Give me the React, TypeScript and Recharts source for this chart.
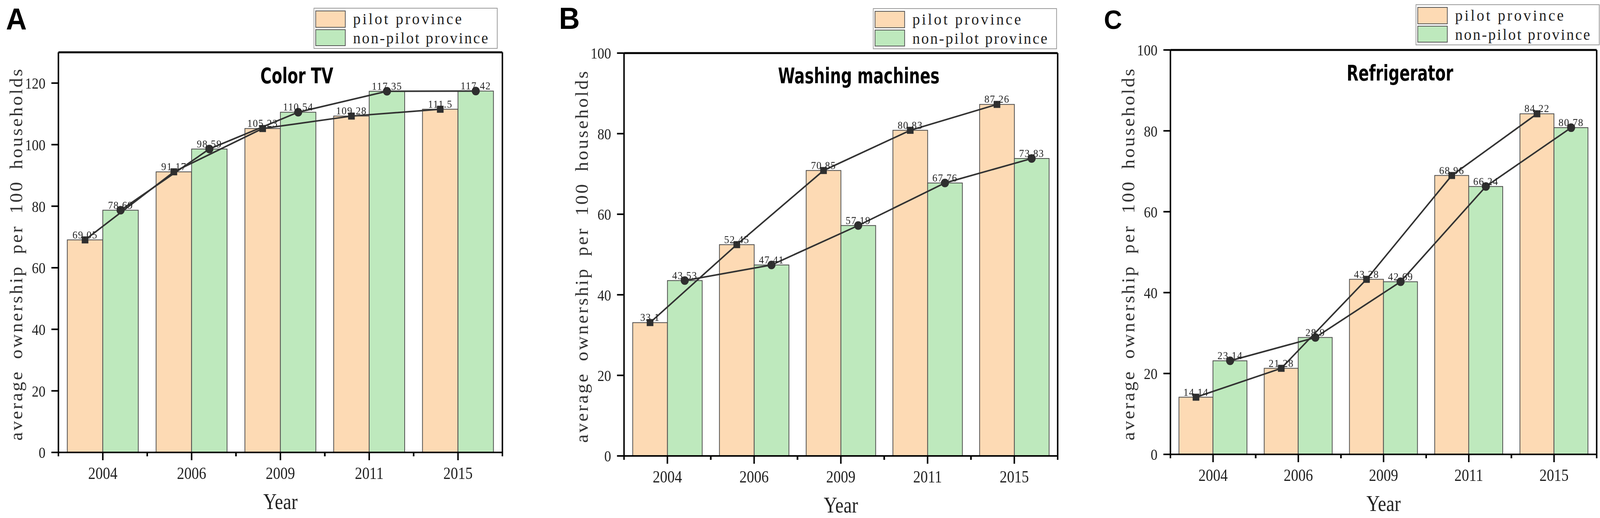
import React from 'react';
import { ComposedChart, Bar, Line, XAxis, YAxis, Legend, LabelList, Label } from 'recharts';

const years = ['2004', '2006', '2009', '2011', '2015'];
const seriesNames = ['pilot province', 'non-pilot province'];

const tvPilot = [69.05, 91.17, 105.23, 109.28, 111.5];
const tvNonPilot = [78.69, 98.59, 110.54, 117.35, 117.42];
const washPilot = [33.1, 52.45, 70.85, 80.83, 87.26];
const washNonPilot = [43.53, 47.41, 57.19, 67.76, 73.83];
const fridgePilot = [14.14, 21.28, 43.28, 68.96, 84.22];
const fridgeNonPilot = [23.14, 28.9, 42.69, 66.24, 80.78];

const tvTicks = [0, 20, 40, 60, 80, 100, 120];
const tvMinorTicks = [10, 30, 50, 70, 90, 110];
const shareTicks = [0, 20, 40, 60, 80, 100];
const shareMinorTicks = [10, 30, 50, 70, 90];

const PILOT_FILL = '#FDDAB4';
const NON_PILOT_FILL = '#BEE9BD';
const MARK = '#2f2f2f';
const SERIF = "'Liberation Serif', 'DejaVu Serif', serif";
const TITLE_FONT = "'Liberation Sans Narrow', 'DejaVu Sans Condensed', 'Liberation Sans', sans-serif";
const LETTER_FONT = "'Liberation Sans', 'DejaVu Sans', sans-serif";
const PAGE_W = 4328;
const PAGE_H = 1327;
const NARROW = 0.9; // the figure's digits are narrower than Times

const makeRows = (pilot: number[], nonPilot: number[]) =>
    years.map((year, i) => ({ year, pilot: pilot[i], nonPilot: nonPilot[i] }));

const panels = [
    {
        letter: 'A', letterSize: 78, letterX: 16, letterY: 76,
        title: 'Color TV', titleX: 803, titleY: 213,
        rows: makeRows(tvPilot, tvNonPilot), max: 130, ticks: tvTicks, minor: tvMinorTicks,
        left: 0, width: 1400, plotLeft: 158, plotRight: 1359, top: 134, bottom: 1159,
        legendX: 848, legendY: 20,
    },
    {
        letter: 'B', letterSize: 78, letterX: 1512, letterY: 74,
        title: 'Washing machines', titleX: 2323, titleY: 213,
        rows: makeRows(washPilot, washNonPilot), max: 100, ticks: shareTicks, minor: shareMinorTicks,
        left: 1440, width: 1460, plotLeft: 1688, plotRight: 2861, top: 136, bottom: 1168,
        legendX: 2361, legendY: 21,
    },
    {
        letter: 'C', letterSize: 68, letterX: 2986, letterY: 74,
        title: 'Refrigerator', titleX: 3787, titleY: 206,
        rows: makeRows(fridgePilot, fridgeNonPilot), max: 100, ticks: shareTicks, minor: shareMinorTicks,
        left: 2930, width: 1398, plotLeft: 3166, plotRight: 4319, top: 128, bottom: 1164,
        legendX: 3829, legendY: 11,
    },
];

const squareDot = (p: any) => (
    <rect key={`sq-${p.index}`} x={p.cx - 9} y={p.cy - 9} width={18} height={18} fill={MARK} />
);

const circleDot = (p: any) => (
    <circle key={`ci-${p.index}`} cx={p.cx} cy={p.cy} r={11} fill={MARK} />
);

const valueLabel = (props: any) => {
    const x = props.x ?? props.viewBox?.x;
    const y = props.y ?? props.viewBox?.y;
    return (
        <text x={x} y={y - 4} textAnchor="middle" fontSize={27} fontFamily={SERIF} fill="#222" letterSpacing={1.5}>
            {props.value}
        </text>
    );
};

const yTick = (t: any) => (
    <text
        transform={`translate(${t.x},${t.y}) scale(${NARROW},1)`}
        dy="0.35em"
        textAnchor="end"
        fontSize={41}
        fontFamily={SERIF}
        fill="#222"
    >
        {t.payload.value}
    </text>
);

const renderLegend = () => (
    <svg width={500} height={106}>
        <rect x={1} y={1} width={496} height={103} fill="#fff" stroke="#9a9a9a" strokeWidth={2} />
        <rect x={6} y={8} width={80} height={42} fill={PILOT_FILL} stroke="#555" strokeWidth={2} />
        <rect x={6} y={56} width={80} height={41} fill={NON_PILOT_FILL} stroke="#555" strokeWidth={2} />
        <text x={107} y={42} fontSize={41} fontFamily={SERIF} letterSpacing={5} fill="#222">{seriesNames[0]}</text>
        <text x={107} y={91} fontSize={41} fontFamily={SERIF} letterSpacing={3.6} fill="#222">{seriesNames[1]}</text>
    </svg>
);

const Panel = ({ p }: { p: (typeof panels)[number] }) => {
    const plotWidth = p.plotRight - p.plotLeft;
    const halfBand = plotWidth / 10;
    const shift = plotWidth / 25;
    const axisStroke = { stroke: '#000', strokeWidth: 4 };

    const xTick = (t: any) => {
        const axisY = t.y - 37;
        return (
            <g>
                <line x1={t.x - halfBand} x2={t.x - halfBand} y1={axisY} y2={axisY + 10} stroke="#000" strokeWidth={4} />
                <line x1={t.x + halfBand} x2={t.x + halfBand} y1={axisY} y2={axisY + 10} stroke="#000" strokeWidth={4} />
                <text
                    transform={`translate(${t.x},${t.y}) scale(${NARROW},1)`}
                    dy="0.71em"
                    textAnchor="middle"
                    fontSize={44}
                    fontFamily={SERIF}
                    fill="#222"
                >
                    {t.payload.value}
                </text>
            </g>
        );
    };

    const yLabel = (props: any) => {
        const vb = props.viewBox;
        const cx = vb.x + vb.width - 98;
        const cy = vb.y + vb.height / 2 + 4;
        return (
            <text
                x={cx}
                y={cy}
                transform={`rotate(-90 ${cx} ${cy})`}
                textAnchor="middle"
                fontSize={48}
                fontFamily={SERIF}
                letterSpacing={4.5}
                wordSpacing={12}
                fill="#333"
            >
                average ownership per 100 households
            </text>
        );
    };

    const xLabel = (props: any) => {
        const vb = props.viewBox;
        const cx = vb.x + vb.width / 2;
        const by = vb.y + 145;
        return (
            <text
                transform={`translate(${cx},${by}) scale(${NARROW},1)`}
                textAnchor="middle"
                fontSize={56}
                fontFamily={SERIF}
                fill="#222"
            >
                Year
            </text>
        );
    };

    return (
        <div style={{ position: 'absolute', left: p.left, top: 0, width: p.width, height: PAGE_H }}>
            <ComposedChart
                width={p.width}
                height={PAGE_H}
                data={p.rows}
                barCategoryGap="10%"
                barGap={0}
                margin={{ top: p.top, right: p.width - (p.plotRight - p.left), bottom: 0, left: 0 }}
            >
                <XAxis
                    dataKey="year"
                    height={PAGE_H - p.bottom}
                    axisLine={axisStroke}
                    tickLine={axisStroke}
                    tickSize={20}
                    tickMargin={17}
                    tick={xTick}
                    interval={0}
                >
                    <Label content={xLabel} />
                </XAxis>
                <XAxis xAxisId="pilotPos" dataKey="year" hide padding={{ left: -shift, right: shift }} />
                <XAxis xAxisId="nonPilotPos" dataKey="year" hide padding={{ left: shift, right: -shift }} />
                <XAxis
                    xAxisId="frame"
                    dataKey="year"
                    orientation="top"
                    mirror
                    tick={false}
                    tickLine={false}
                    axisLine={{ stroke: '#000', strokeWidth: 5 }}
                />
                <YAxis
                    width={p.plotLeft - p.left}
                    domain={[0, p.max]}
                    ticks={p.ticks}
                    interval={0}
                    axisLine={axisStroke}
                    tickLine={axisStroke}
                    tickSize={19}
                    tickMargin={16}
                    tick={yTick}
                >
                    <Label content={yLabel} />
                </YAxis>
                <YAxis
                    yAxisId="frame"
                    orientation="right"
                    mirror
                    domain={[0, p.max]}
                    ticks={p.minor}
                    interval={0}
                    axisLine={axisStroke}
                    tickLine={axisStroke}
                    tickSize={10}
                    tick={() => null}
                />
                <Legend
                    layout="vertical"
                    align="center"
                    verticalAlign="middle"
                    content={renderLegend}
                    wrapperStyle={{ left: p.legendX - p.left, top: p.legendY, width: 500, height: 106 }}
                />
                <Bar dataKey="pilot" fill={PILOT_FILL} stroke="#4a4a4a" strokeWidth={2} isAnimationActive={false} />
                <Bar dataKey="nonPilot" fill={NON_PILOT_FILL} stroke="#4a4a4a" strokeWidth={2} isAnimationActive={false} />
                <Line
                    xAxisId="pilotPos"
                    dataKey="pilot"
                    stroke="#333"
                    strokeWidth={4}
                    dot={squareDot}
                    isAnimationActive={false}
                >
                    <LabelList dataKey="pilot" content={valueLabel} />
                </Line>
                <Line
                    xAxisId="nonPilotPos"
                    dataKey="nonPilot"
                    stroke="#333"
                    strokeWidth={4}
                    dot={circleDot}
                    isAnimationActive={false}
                >
                    <LabelList dataKey="nonPilot" content={valueLabel} />
                </Line>
            </ComposedChart>
            <svg
                width={p.width}
                height={PAGE_H}
                style={{ position: 'absolute', left: 0, top: 0, pointerEvents: 'none' }}
            >
                <text x={p.letterX - p.left} y={p.letterY} fontSize={p.letterSize} fontWeight="bold" fontFamily={LETTER_FONT} fill="#000">
                    {p.letter}
                </text>
                <text
                    transform={`translate(${p.titleX - p.left},${p.titleY}) scale(0.84,1)`}
                    textAnchor="middle"
                    fontSize={55}
                    fontWeight="bold"
                    fontFamily={TITLE_FONT}
                    fill="#000"
                >
                    {p.title}
                </text>
            </svg>
        </div>
    );
};

export default function App() {
    // the window that gets photographed may be narrower than the figure, so fit the figure to it
    const vw = typeof window !== 'undefined' ? window.innerWidth : PAGE_W;
    const vh = typeof window !== 'undefined' ? window.innerHeight : PAGE_H;
    return (
        <div style={{ position: 'fixed', left: 0, top: 0, width: '100vw', height: '100vh', overflow: 'hidden', background: '#fff' }}>
            <div
                style={{
                    position: 'absolute',
                    left: 0,
                    top: 0,
                    width: PAGE_W,
                    height: PAGE_H,
                    transform: `scale(${vw / PAGE_W}, ${vh / PAGE_H})`,
                    transformOrigin: '0 0',
                }}
            >
                {panels.map((p) => (
                    <Panel key={p.letter} p={p} />
                ))}
            </div>
        </div>
    );
}
